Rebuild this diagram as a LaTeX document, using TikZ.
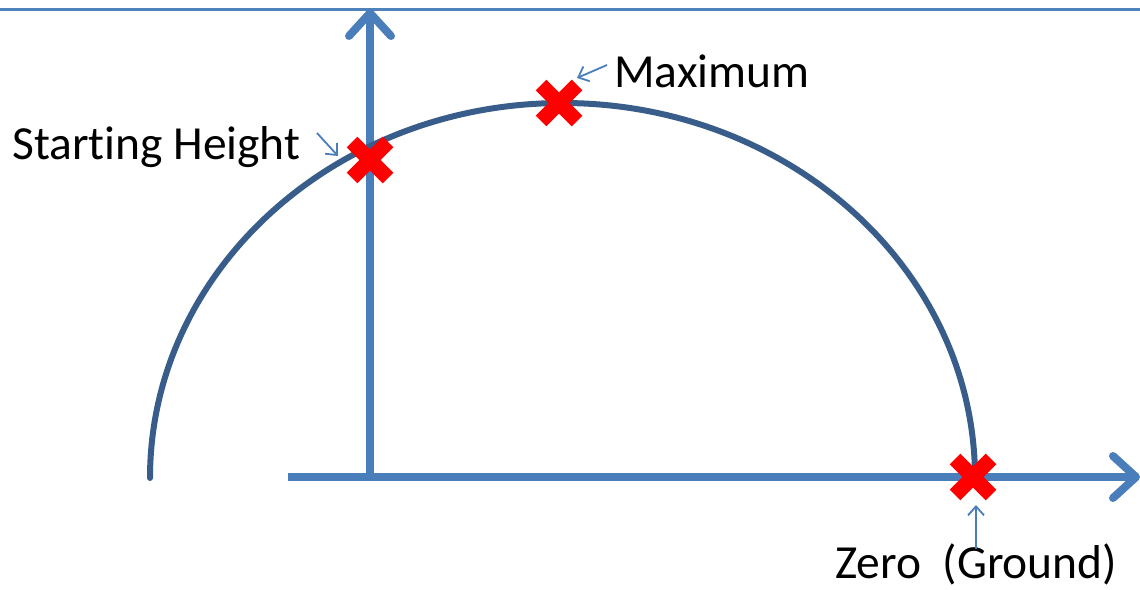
\documentclass[tikz,border=0pt]{standalone}
\usepackage{fontspec}
\setmainfont[Ligatures={NoCommon}]{Carlito}
\usetikzlibrary{arrows.meta}
\definecolor{axisblue}{HTML}{4A7EBB}
\definecolor{curveblue}{HTML}{385D8A}
\definecolor{topline}{HTML}{4F81BD}
\tikzset{
  axisline/.style={draw=axisblue,line width=8pt,
    -{Straight Barb[length=23pt,width=42pt,line cap=round,line join=round]}},
  curveline/.style={draw=curveblue,line width=6pt,line cap=round},
  pointer/.style={draw=axisblue,line width=1.8pt,
    -{Straight Barb[length=9pt,width=16pt]}},
  lbl/.style={inner sep=0pt,font=\fontsize{47.5}{57}\selectfont,anchor=base west},
  xmark/.pic={\draw[red,line width=15pt] (-18,-18) -- (18,18) (-18,18) -- (18,-18);}
}
\begin{document}
\begin{tikzpicture}[x=1pt,y=-1pt]
\useasboundingbox (0,0) rectangle (1140,589);
% top rule
\coordinate (tl) at (0,9.5);
\coordinate (tr) at (1140,9.5);
\draw[topline,line width=2.2pt] (tl) -- (tr);
% axes
\coordinate (ystart) at (370,477);
\coordinate (ytip) at (370,9);
\coordinate (xstart) at (288,477);
\coordinate (xtip) at (1140,477);
\draw[axisline] (ystart) -- (ytip);
\draw[axisline] (xstart) -- (xtip);
% trajectory
\coordinate (cleft) at (150,478);
\draw[curveline] (cleft) arc[start angle=180,end angle=360,x radius=412.5,y radius=375];
% marks
\coordinate (pstart) at (370,160);
\coordinate (pmax) at (559,103);
\coordinate (pzero) at (973,477);
\pic at (pstart) {xmark};
\pic at (pmax) {xmark};
\pic at (pzero) {xmark};
% labels
\node[lbl] (lstart) at (12,159) {Starting Height};
\node[lbl] (lmax) at (614,87) {Maximum};
\node[lbl] (lzero) at (835,578) {Zero\ \ (Ground)};
% pointers
\coordinate (a1s) at (317,133);
\coordinate (a1e) at (338,156);
\coordinate (a2s) at (607,65);
\coordinate (a2e) at (577,78);
\coordinate (a3s) at (976,549);
\coordinate (a3e) at (976,505);
\draw[pointer] (a1s) -- (a1e);
\draw[pointer] (a2s) -- (a2e);
\draw[pointer] (a3s) -- (a3e);
\end{tikzpicture}
\end{document}
